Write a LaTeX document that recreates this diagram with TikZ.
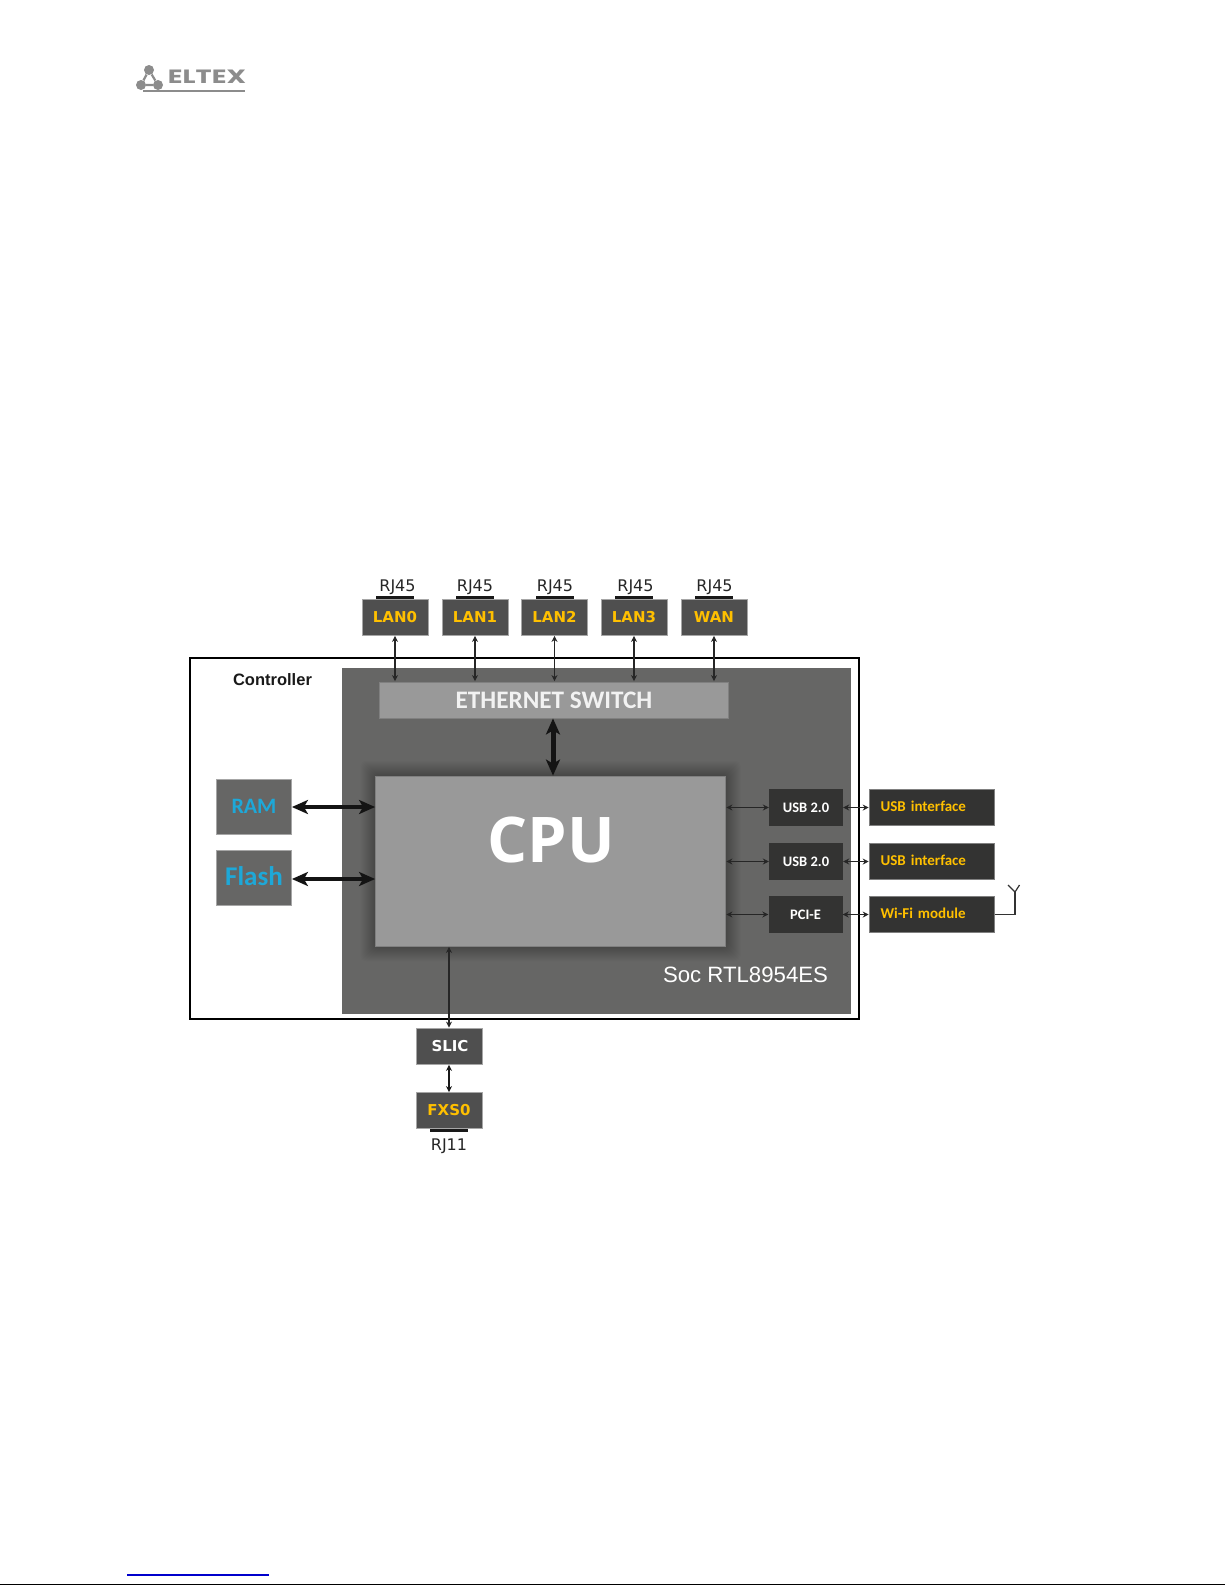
\documentclass[tikz,border=0pt]{standalone}
\usepackage{fontspec,graphicx,xcolor}
\setmainfont{DejaVu Sans}
\newfontfamily\carlito{Carlito}
\newfontfamily\libsans{Liberation Sans}
\newfontfamily\logofont{Poppins}
\newfontfamily\opensans{Open Sans}
\newcommand{\fsz}[1]{\fontsize{#1}{#1}\selectfont}
\definecolor{elyellow}{RGB}{255,192,0}
\definecolor{elblue}{RGB}{30,168,216}
\definecolor{elsoc}{RGB}{102,102,101}
\definecolor{elgray}{RGB}{79,79,79}
\definecolor{eldark}{RGB}{51,51,50}
\definecolor{ellogo}{RGB}{140,140,140}
\usetikzlibrary{arrows.meta,positioning,calc}

\begin{document}
\begin{tikzpicture}[x=1pt,y=-1pt,
  lanbox/.style={draw=black!35, fill=elgray, line width=0.8pt, inner sep=0pt, minimum width=66pt, minimum height=36pt, align=center, font=\bfseries\fsz{15}, text=elyellow},
  portbar/.style={fill=black!90, inner sep=0pt, minimum width=38pt, minimum height=3.5pt},
  portlabel/.style={inner sep=0pt, font=\fsz{16}, text=black!85},
  membox/.style={draw=black!35, fill=elsoc, line width=0.8pt, inner sep=0pt, minimum width=75pt, minimum height=55pt, align=center, text=elblue},
  busbox/.style={draw=eldark, fill=eldark, inner sep=0pt, minimum width=73pt, minimum height=36pt, align=center, font=\carlito\bfseries\fsz{14.5}, text=white},
  ifacebox/.style={draw=black!50, fill=eldark, line width=0.6pt, inner xsep=11pt, inner ysep=0pt, text width=103pt, text depth=2pt, minimum height=36pt, align=left, font=\carlito\bfseries\fsz{15}, text=elyellow},
  thinarrow/.style={line width=1.2pt, draw=black!85, {Stealth[length=6pt,width=6pt]}-{Stealth[length=6pt,width=6pt]}, shorten <=0.5pt, shorten >=0.5pt},
  midarrow/.style={line width=1.6pt, draw=black!90, {Stealth[length=6pt,width=6pt]}-{Stealth[length=6pt,width=6pt]}},
  bigarrow/.style={line width=5pt, draw=black!92, {Stealth[length=16pt,width=14pt,inset=4pt]}-{Stealth[length=16pt,width=14pt,inset=4pt]}},
  logodot/.style={circle, fill=ellogo, inner sep=0pt, minimum size=10pt}
]
  \useasboundingbox[fill=white] (0,0) rectangle (1225,1585);

  %% Logo
  \node[logodot] (logotop) at (149,70) {};
  \node[logodot] (logoleft) at (141,85) {};
  \node[logodot] (logoright) at (158,85) {};
  \draw[ellogo, line width=2.2pt] (logotop) -- (logoleft) -- (logoright) -- (logotop);
  \node[inner sep=0pt, text=ellogo] (logotext) at (207,77) {\resizebox{78pt}{13.5pt}{\logofont\bfseries ELTEX}};
  \draw[ellogo, line width=1.5pt] (143,91) -- (245,91);

  %% Controller and SoC
  \node[draw=black, line width=2pt, inner sep=0pt, minimum width=669pt, minimum height=361pt] (controller) at (524,838.5) {};
  \node[fill=elsoc, inner sep=0pt, minimum width=509pt, minimum height=346pt] (soc) at (596.5,841) {};
  \node[inner sep=0pt, font=\libsans\bfseries\fsz{16.5}, text=black!90] (ctrllabel) at (272.5,679.5) {Controller};
  \node[inner sep=0pt, font=\libsans\fsz{22.2}, text=white] (soclabel) at (745.5,975) {Soc RTL8954ES};

  %% Switch
  \node[draw=black!50, fill=black!40, line width=0.8pt, inner sep=0pt, minimum width=349pt, minimum height=36pt, font=\carlito\bfseries\fsz{25.2}, text=white!95!black] (switch) at (554,700) {ETHERNET SWITCH};

  %% CPU with its shadow
  \foreach \i in {1,...,15}
    \node[fill=black, opacity=0.02, rounded corners=5pt, inner sep=0pt, minimum width={350+2*\i}, minimum height={170+2*\i}] at (550.5,861) {};
  \node[draw=black!50, fill=black!40, line width=0.8pt, inner sep=0pt, minimum width=350pt, minimum height=170pt] (cpu) at (550.5,861) {};
  \node[inner sep=0pt, font=\opensans\bfseries\fsz{63}, text=white] (cpulabel) at (551,840) {CPU};

  %% Ports on top
  \node[lanbox] (lan0) at (395,617) {LAN0};
  \node[lanbox] (lan1) at (475,617) {LAN1};
  \node[lanbox] (lan2) at (554.5,617) {LAN2};
  \node[lanbox] (lan3) at (634,617) {LAN3};
  \node[lanbox] (wan) at (714,617) {WAN};
  \node[portbar] (bar0) at (395,597.5) {};
  \node[portbar] (bar1) at (475,597.5) {};
  \node[portbar] (bar2) at (554.5,597.5) {};
  \node[portbar] (bar3) at (634,597.5) {};
  \node[portbar] (bar4) at (714,597.5) {};
  \node[portlabel] (rj0) at (397.5,587) {RJ45};
  \node[portlabel] (rj1) at (475,587) {RJ45};
  \node[portlabel] (rj2) at (555,587) {RJ45};
  \node[portlabel] (rj3) at (635.5,587) {RJ45};
  \node[portlabel] (rj4) at (714.5,587) {RJ45};

  \draw[thinarrow] (lan0.south) -- (lan0.south |- switch.north);
  \draw[thinarrow] (lan1.south) -- (lan1.south |- switch.north);
  \draw[thinarrow] (lan2.south) -- (lan2.south |- switch.north);
  \draw[thinarrow] (lan3.south) -- (lan3.south |- switch.north);
  \draw[thinarrow] (wan.south) -- (wan.south |- switch.north);
  \draw[bigarrow] ([xshift=-1pt]switch.south) -- ([xshift=-1pt]switch.south |- cpu.north);

  %% Memory
  \node[membox, font=\carlito\bfseries\fsz{22}] (ram) at (254,807) {\raisebox{1pt}{RAM}};
  \node[membox, font=\carlito\bfseries\fsz{27}] (flash) at (254,877.5) {\raisebox{2pt}{Flash}};
  \draw[bigarrow, line width=3.5pt] (ram.east) -- (ram.east -| cpu.west);
  \draw[bigarrow, line width=4.5pt] ([yshift=-1.5pt]flash.east) -- ([yshift=-1.5pt]flash.east -| cpu.west);

  %% Bus blocks and interfaces
  \node[busbox] (usb0) at (806,807.5) {USB 2.0};
  \node[busbox] (usb1) at (806,861.5) {USB 2.0};
  \node[busbox] (pcie) at (805.5,914.5) {PCI-E};
  \node[ifacebox] (iface0) at (932,807.5) {USB interface};
  \node[ifacebox] (iface1) at (932,861.5) {USB interface};
  \node[ifacebox] (wifi) at (932,914.5) {Wi-Fi module};
  \draw[thinarrow] (usb0.west -| cpu.east) -- (usb0.west);
  \draw[thinarrow] (usb1.west -| cpu.east) -- (usb1.west);
  \draw[thinarrow] (pcie.west -| cpu.east) -- (pcie.west);
  \draw[thinarrow] (usb0.east) -- (iface0.west);
  \draw[thinarrow] (usb1.east) -- (iface1.west);
  \draw[thinarrow] (pcie.east) -- (wifi.west);

  %% Antenna
  \coordinate (antbase) at (1015,892);
  \coordinate (antleft) at (1008,885);
  \coordinate (antright) at (1019.5,885);
  \draw[black!80, line width=1.2pt] (wifi.east) -| (antbase);
  \draw[black!80, line width=1.2pt] (antleft) -- (antbase) -- (antright);

  %% Phone line
  \node[lanbox, text=white] (slic) at (449,1046.5) {\hspace{2pt}SLIC};
  \node[lanbox] (fxs) at (449,1110.5) {\raisebox{-1pt}{FXS0}};
  \node[portbar] (bar5) at (449,1130.5) {};
  \node[portlabel] (rj11) at (449,1146.5) {RJ11};
  \draw[thinarrow, line width=1.4pt] (slic.north) -- (slic.north |- cpu.south);
  \draw[midarrow] (slic.south) -- (fxs.north);

  %% Page foot
  \draw[blue!80!black, line width=1.2pt] (127,1575) -- (269,1575);
  \fill[black] (0,1583.5) rectangle (1225,1585);
\end{tikzpicture}
\end{document}
